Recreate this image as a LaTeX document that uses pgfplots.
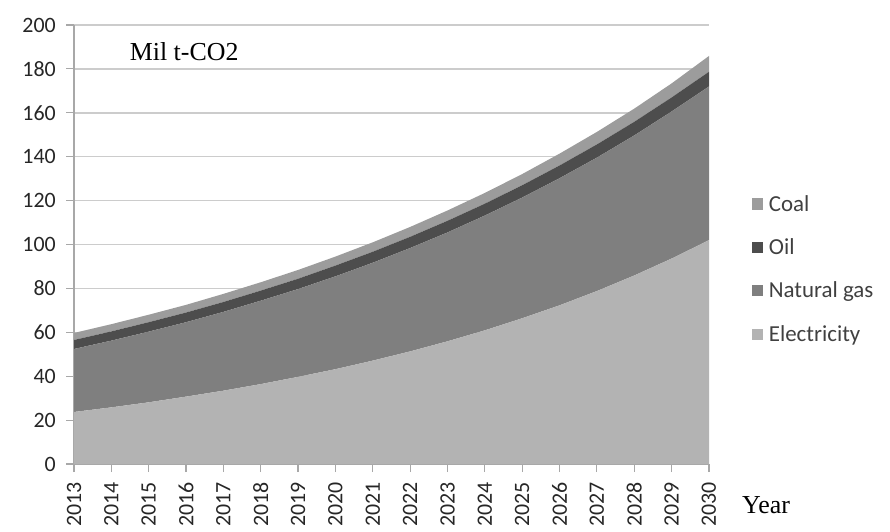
\documentclass[border=0pt]{standalone}
\usepackage{fontspec}
\setmainfont{Liberation Serif}
\newfontfamily\carlito{Carlito}
\usepackage{pgfplots}
\usepackage{pgfplotstable}
\pgfplotsset{compat=1.18}

\definecolor{elec}{HTML}{B3B3B3}
\definecolor{gas}{HTML}{7F7F7F}
\definecolor{oil}{HTML}{4D4D4D}
\definecolor{coal}{HTML}{9C9C9C}
\definecolor{gridc}{HTML}{CCCCCC}
\definecolor{axc}{HTML}{A8A8A8}

% Mil t-CO2 by source (layer thickness)
\pgfplotstableread{
year elec  gas  oil coal
2013 23.7  28.7 4.1 3.2
2014 25.8  30.4 4.2 3.3
2015 28.1  32.2 4.3 3.4
2016 30.7  33.9 4.4 3.5
2017 33.4  35.9 4.5 3.7
2018 36.4  38.0 4.6 3.8
2019 39.7  40.0 4.7 4.0
2020 43.2  42.3 4.9 4.1
2021 47.1  44.6 5.0 4.3
2022 51.3  47.1 5.1 4.5
2023 55.9  49.6 5.3 4.7
2024 60.9  52.3 5.4 4.9
2025 66.4  55.0 5.6 5.1
2026 72.3  57.9 5.8 5.4
2027 78.8  60.8 6.0 5.7
2028 85.9  63.8 6.2 6.0
2029 93.6  67.0 6.4 6.4
2030 102.0 70.0 6.7 7.2
}\emissions

\begin{document}
\begin{tikzpicture}
\begin{axis}[
    name=ax,
    scale only axis,
    width=635bp, height=439bp,
    xmin=2013, xmax=2030,
    ymin=0, ymax=200,
    xtick={2013,2014,...,2030},
    ytick={0,20,...,200},
    axis lines*=left,
    axis line style={axc, line width=1.2pt, -},
    tick style={axc, line width=1.2pt},
    tick align=outside,
    major tick length=8bp,
    ymajorgrids,
    grid style={gridc, line width=1.5pt},
    /pgf/number format/1000 sep={},
    /pgf/number format/assume math mode=true,
    ticklabel style={font=\carlito\fontsize{22}{26}\selectfont, text=black!85},
    x tick label style={rotate=90, anchor=east, inner xsep=10bp},
    y tick label style={inner xsep=10bp},
    stack plots=y,
    area legend,
    reverse legend,
    legend cell align=left,
    legend style={at={(1.068,0.444)}, anchor=west, draw=none, fill=none,
        font=\carlito\fontsize{23}{27}\selectfont, text=black!75,
        row sep=22bp, inner sep=0pt, nodes={inner xsep=5.5bp}},
    legend image code/.code={\fill[#1] (0bp,-5.5bp) rectangle (11bp,5.5bp);},
]
\addplot[fill=elec, draw=none] table[x=year, y=elec] {\emissions} \closedcycle;
\addlegendentry{Electricity}
\addplot[fill=gas, draw=none] table[x=year, y=gas] {\emissions} \closedcycle;
\addlegendentry{Natural gas}
\addplot[fill=oil, draw=none] table[x=year, y=oil] {\emissions} \closedcycle;
\addlegendentry{Oil}
\addplot[fill=coal, draw=none] table[x=year, y=coal] {\emissions} \closedcycle;
\addlegendentry{Coal}
\node[font=\fontsize{26}{30}\selectfont] at (axis cs:2015.95,187.7) {Mil t-CO2};
\end{axis}
\node[font=\fontsize{26}{30}\selectfont] at ([xshift=692bp,yshift=-41bp]ax.south west) {Year};
\pgfresetboundingbox
\path (ax.south west) ++(-74bp,-68bp) rectangle ++(890bp,532bp);
\end{tikzpicture}
\end{document}
